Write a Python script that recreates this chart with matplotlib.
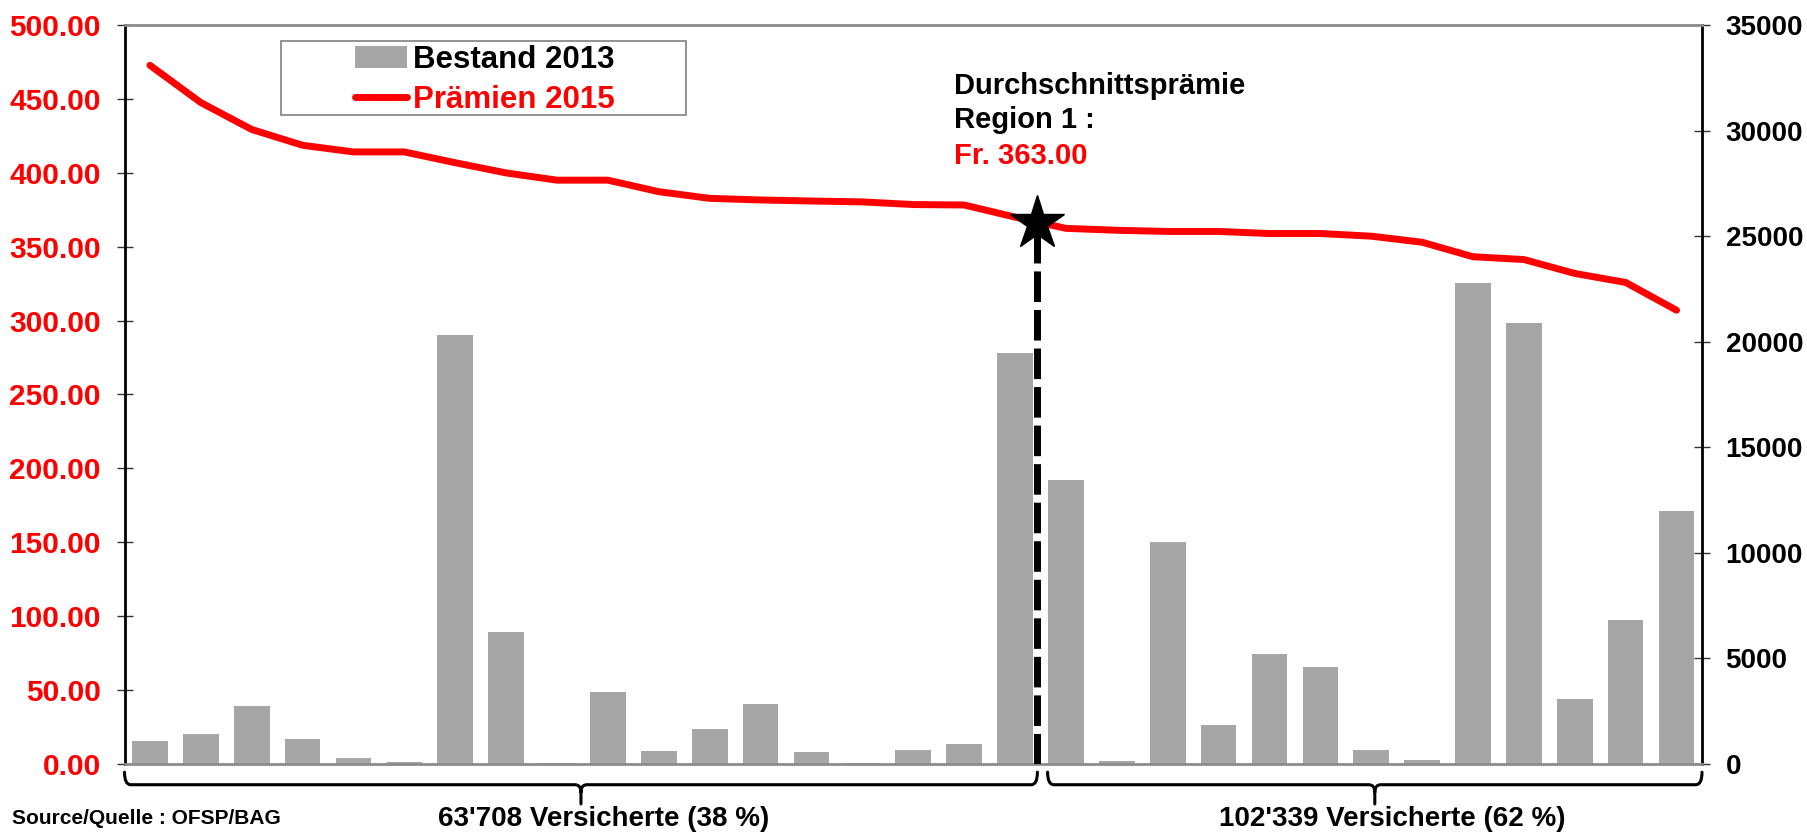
"""
Durchschnittspraemie Region 1: Bestand 2013 (bars, right axis) and
Praemien 2015 (line, left axis) per region, with the average marked
and the two groups of insured persons below/above the average.
"""

import numpy as np
import matplotlib.pyplot as plt
import matplotlib.transforms as mtransforms
from matplotlib.path import Path
from matplotlib.patches import PathPatch, Rectangle

plt.rcParams['font.family'] = ['Liberation Sans', 'DejaVu Sans']
plt.rcParams['font.weight'] = 'bold'


#%% data
regions = np.arange(31)

bestand_2013 = [1100, 1415, 2750, 1200, 300, 115, 20300, 6250, 35, 3420,
                595, 1680, 2830, 550, 65, 645, 960, 19450,
                13450, 150, 10500, 1850, 5230, 4610, 680, 210, 22800, 20890,
                3060, 6840, 11960]

praemien_2015 = [472.7, 447.5, 429.3, 418.6, 414.1, 414.1, 406.8, 399.9,
                 395.0, 395.0, 387.2, 382.7, 381.6, 380.9, 380.3, 378.5,
                 378.2, 370.0,
                 362.4, 361.1, 360.3, 360.3, 358.9, 358.9, 357.1, 353.0,
                 343.2, 341.3, 331.9, 325.8, 307.0]

# average premium, placed between region 17 and 18
avg_x = 17.44
avg_y = 366.0

group_labels = ["63'708 Versicherte (38 %)", "102'339 Versicherte (62 %)"]

yticks_left = np.arange(0, 501, 50)
yticks_right = np.arange(0, 35001, 5000)


def draw_brace(ax, x0, x1, trans, y_top=-0.011, y_line=-0.028,
               y_tip=-0.054, r=0.12, ry=0.01):
    """horizontal curly brace below the axis, x in data, y in axes coords"""
    xm = (x0 + x1) / 2
    verts = [(x0, y_top), (x0, y_line), (x0 + r, y_line),
             (xm - r, y_line),
             (xm, y_line), (xm, y_line - ry),
             (xm, y_tip),
             (xm, y_line - ry),
             (xm, y_line), (xm + r, y_line),
             (x1 - r, y_line),
             (x1, y_line), (x1, y_top)]
    codes = [Path.MOVETO, Path.CURVE3, Path.CURVE3,
             Path.LINETO,
             Path.CURVE3, Path.CURVE3,
             Path.LINETO,
             Path.MOVETO,
             Path.CURVE3, Path.CURVE3,
             Path.LINETO,
             Path.CURVE3, Path.CURVE3]
    patch = PathPatch(Path(verts, codes), transform=trans, fill=False,
                      edgecolor='black', lw=2.2, clip_on=False,
                      capstyle='round', joinstyle='round')
    ax.add_patch(patch)
    return xm


if __name__ == '__main__':

    fig = plt.figure(figsize=(18.07, 8.32), dpi=100)
    ax = fig.add_axes([0.0689, 0.0817, 0.873, 0.8883])
    ax2 = ax.twinx()

    # line axis on top of bar axis
    ax.set_zorder(ax2.get_zorder() + 1)
    ax.patch.set_visible(False)

    #%% bars (right axis)
    bars = ax2.bar(regions, bestand_2013, width=0.7, color='#a6a6a6',
                   label='Bestand 2013')

    #%% premium line (left axis)
    line, = ax.plot(regions, praemien_2015, color='#ff0000', lw=5,
                    solid_capstyle='round', solid_joinstyle='round',
                    label='Prämien 2015', zorder=3)

    # average marker with dashed line down to zero
    ax.vlines(avg_x, 0, avg_y, colors='black', lw=5,
              linestyles=(0, (4.4, 1.15)), zorder=4)
    ax.plot(avg_x, avg_y, marker='*', ms=41, color='black', zorder=5,
            clip_on=False)

    #%% axes
    ax.set_xlim(-0.5, 30.5)
    ax.set_ylim(0, 500)
    ax2.set_ylim(0, 35000)

    ax.set_xticks([])
    ax.set_yticks(yticks_left)
    ax.set_yticklabels([f'{v:.2f}' for v in yticks_left])
    ax2.set_yticks(yticks_right)
    ax2.set_yticklabels([f'{v:d}' for v in yticks_right])

    ax.tick_params(axis='y', direction='inout', length=12, width=1,
                   color='#333333', labelcolor='#ff0000', labelsize=21.5,
                   pad=11)
    ax2.tick_params(axis='y', direction='inout', length=12, width=1,
                    color='#333333', labelcolor='black', labelsize=20,
                    pad=11)

    ax.spines.left.set_color('black')
    ax.spines.left.set_linewidth(2)
    ax.spines.top.set_color('#8c8c8c')
    ax.spines.top.set_linewidth(2)
    ax.spines.bottom.set_color('#8c8c8c')
    ax.spines.bottom.set_linewidth(2)
    ax.spines.right.set_visible(False)
    ax2.spines.right.set_color('black')
    ax2.spines.right.set_linewidth(2)
    for s in ['left', 'top', 'bottom']:
        ax2.spines[s].set_visible(False)

    #%% legend with separate frame
    leg = ax.legend(handles=[bars, line],
                    loc='upper left',
                    bbox_to_anchor=(355 / 1807, 1 - 44.5 / 832),
                    bbox_transform=fig.transFigure, frameon=False,
                    fontsize=22.5, handlelength=1.66, handletextpad=0.2,
                    labelspacing=0.33, borderpad=0, borderaxespad=0)
    leg.get_texts()[1].set_color('#ff0000')
    fig.add_artist(Rectangle((281 / 1807, 1 - 115 / 832), 405 / 1807,
                             74 / 832, transform=fig.transFigure,
                             fill=False, edgecolor='#808080', lw=1.2))

    #%% annotation of the average
    kwargs = dict(ha='left', va='baseline', fontsize=21, weight='bold')
    fig.text(954 / 1807, 1 - 93.5 / 832, 'Durchschnittsprämie', **kwargs)
    fig.text(954 / 1807, 1 - 127.5 / 832, 'Region 1 :', **kwargs)
    fig.text(954 / 1807, 1 - 163.5 / 832, 'Fr. 363.00', color='#ff0000',
             **kwargs)

    #%% braces with number of insured
    trans = mtransforms.blended_transform_factory(ax.transData, ax.transAxes)
    xm_left = draw_brace(ax, -0.5, avg_x, trans)
    xm_right = draw_brace(ax, avg_x + 0.2, 30.5, trans)
    for xm, dx, label in zip([xm_left, xm_right], [0.45, 0.35], group_labels):
        ax.text(xm + dx, -0.074, label, transform=trans, ha='center',
                va='center', fontsize=20, weight='bold', clip_on=False)

    fig.text(12 / 1807, 1 - 809 / 832, 'Source/Quelle : OFSP/BAG',
             ha='left', va='top', fontsize=15, weight='bold')

    plt.savefig('out.png', dpi=100)
    plt.close('all')
